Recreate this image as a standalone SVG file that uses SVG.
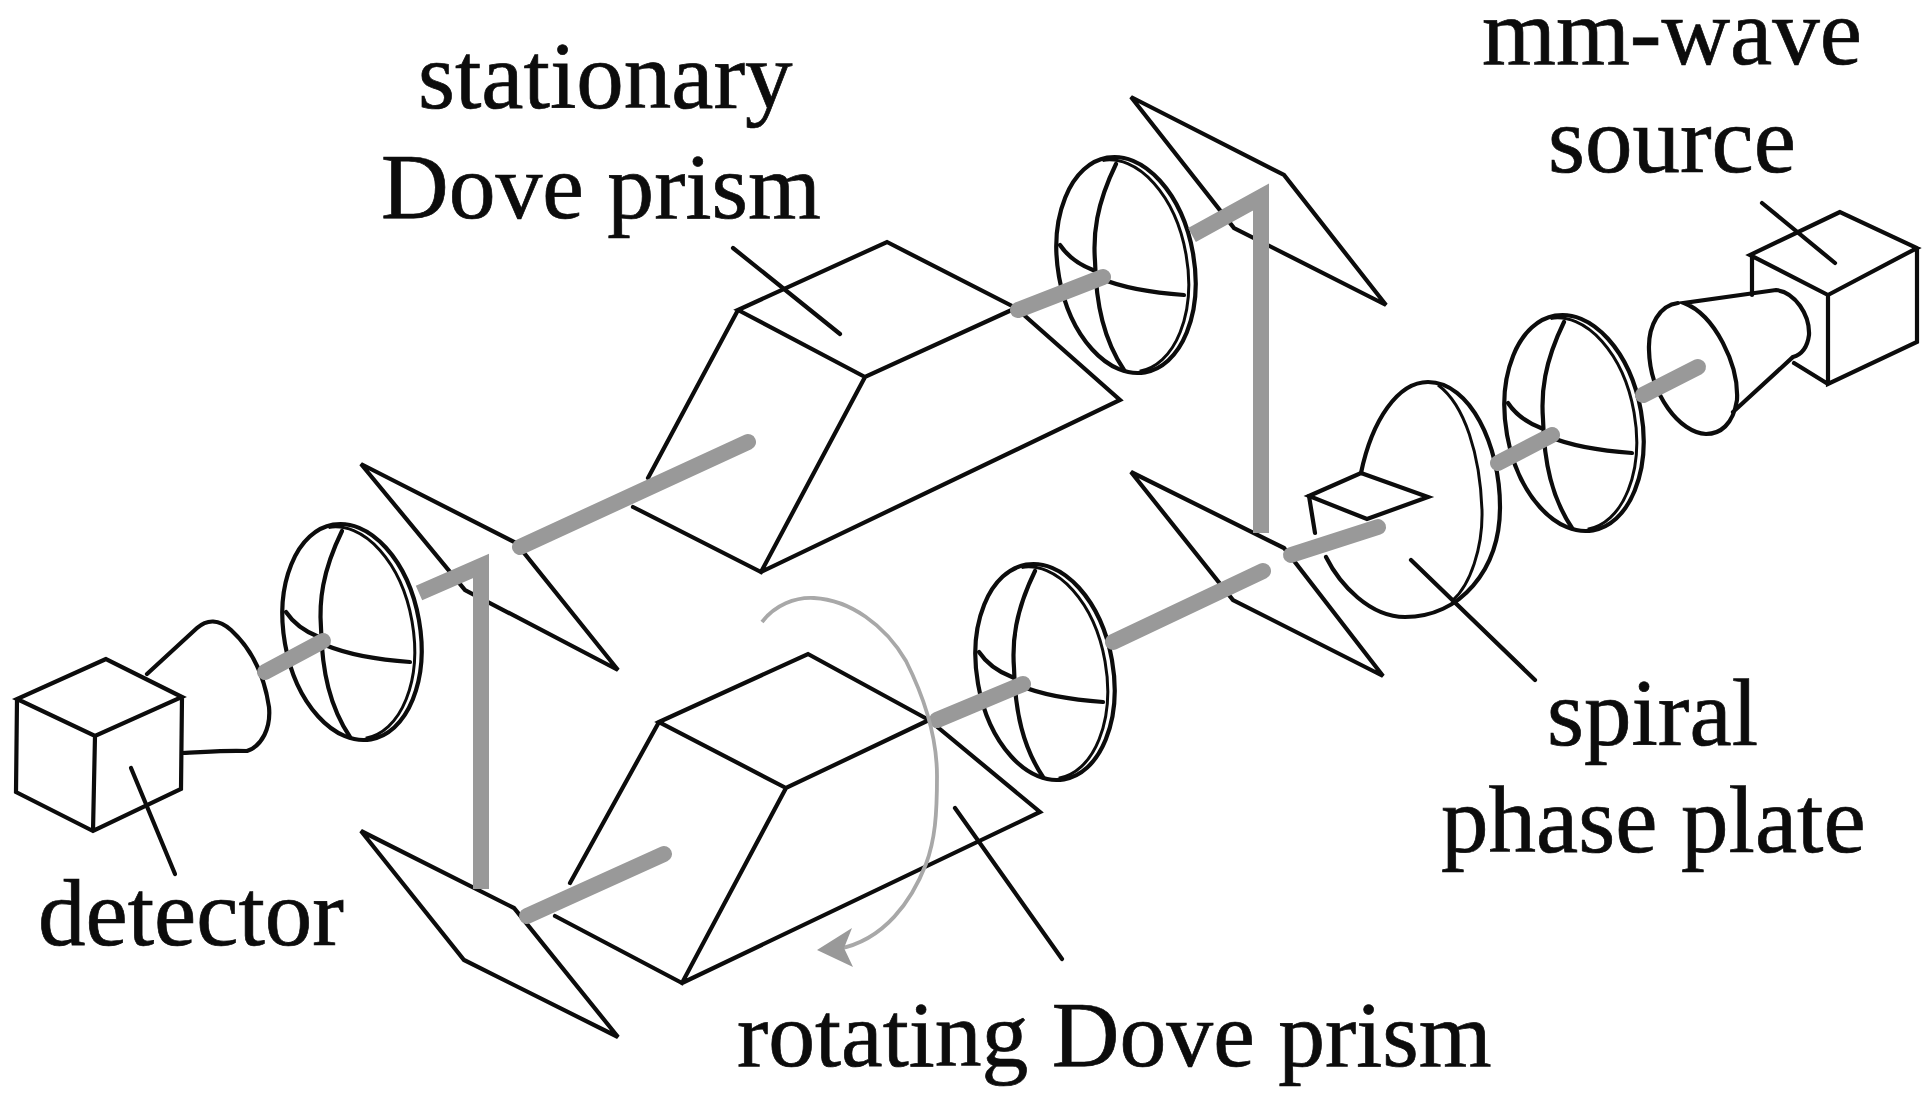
<svg xmlns="http://www.w3.org/2000/svg" xmlns:xlink="http://www.w3.org/1999/xlink" width="1932" height="1101" viewBox="0 0 1932 1101">
<style>
.l{fill:none;stroke:#0c0c0c;stroke-width:4.2;stroke-linejoin:miter;stroke-linecap:round}
.t{fill:none;stroke:#0c0c0c;stroke-width:3}
.b{fill:none;stroke:#999;stroke-width:16;stroke-linecap:round;stroke-linejoin:miter}
.v{fill:none;stroke:#999;stroke-width:16;stroke-linecap:butt;stroke-linejoin:miter;stroke-miterlimit:10}
.a{fill:none;stroke:#a8a8a8;stroke-width:3.8}
text{font-family:"Liberation Serif","Times New Roman",serif;font-size:95px;fill:#0c0c0c;stroke:#0c0c0c;stroke-width:.7}
text.s{font-size:93.7px}
</style>
<defs>
<g id="lens">
<g transform="rotate(-10)">
<ellipse class="l" cx="0" cy="0" rx="68" ry="109"/>
<path class="t" d="M-5,-107A66,107 0 0 1 -5,107"/>
</g>
<path class="l" d="M-10,-101C-30,-60 -33,-30 -31,-4C-30,40 -22,75 -2,105"/>
<path class="l" d="M-66,-20C-58,-8 -46,0 -33,5"/>
<path class="l" d="M-27,13C-5,22 28,28 58,30"/>
</g>
</defs>
<rect width="1932" height="1101" fill="#fff"/>

<g id="detector">
<path class="l" d="M106,659L17,699L95,736L182,697ZM17,699L16,792L93,831L181,789L182,697M95,736L93,831"/>
</g>
<g id="detector-horn">
<path class="l" d="M147,674L197,628C207,619 219,619 231,630C255,652 265,680 269,707C271,728 262,746 247,751C225,750 205,752 182,753"/>
</g>
<g id="lens-1"><use xlink:href="#lens" href="#lens" x="352" y="632"/></g>
<g id="mirror-upper-left"><path class="l" d="M361,464L516,543L618,670L465,590Z"/></g>
<g id="mirror-lower-left"><path class="l" d="M361,831L514,908L618,1037L464,960Z"/></g>
<g id="stationary-dove-prism">
<path class="l" d="M738,310L887,242L1016,308L865,377ZM738,310L648,478M633,507L761,572L865,377M761,572L1120,400L1016,308"/>
</g>
<g id="rotating-dove-prism">
<path class="l" d="M659,722L808,654L929,720L786,788ZM659,722L570,883M555,916L682,983L786,788M682,983L1040,812L929,720"/>
</g>
<g id="lens-2"><use xlink:href="#lens" href="#lens" x="1126" y="265"/></g>
<g id="lens-3"><use xlink:href="#lens" href="#lens" x="1045" y="672"/></g>
<g id="lens-4"><use xlink:href="#lens" href="#lens" x="1574" y="423"/></g>
<g id="mirror-upper-right"><path class="l" d="M1131,97L1284,175L1386,305L1234,228Z"/></g>
<g id="mirror-lower-right"><path class="l" d="M1131,472L1284,548L1383,676L1233,600Z"/></g>
<g id="spiral-phase-plate">
<path class="l" d="M1361,473C1372,420 1398,382 1428,382C1470,382 1500,445 1500,507C1500,570 1460,617 1405,617C1370,617 1340,585 1326,557M1309,496L1315,533"/>
<path class="t" d="M1438,385C1465,405 1480,455 1482,510C1483,548 1470,585 1453,600"/>
<path class="l" d="M1361,473L1428,497L1367,519L1309,496Z"/>
</g>
<g id="source-horn">
<path class="l" d="M1678,303C1660,305 1648,325 1649,350C1650,395 1680,433 1706,434C1720,434 1733,425 1737,400C1739,365 1715,315 1684,303L1776,290C1795,292 1810,315 1809,335C1807,350 1800,355 1793,357L1733,412"/>
</g>
<g id="mm-wave-source">
<path class="l" d="M1840,212L1750,255L1828,295L1917,248ZM1752,255L1752,295M1828,295L1828,384L1917,342L1917,248M1794,363L1828,384"/>
</g>

<g id="connectors">
<path class="b" d="M265,672L323,641"/>
<path class="v" d="M419,593L481,566L481,889"/>
<path class="b" d="M520,547L748,442"/>
<path class="b" d="M527,916L664,854"/>
<path class="b" d="M937,720L1023,684"/>
<path class="b" d="M1113,642L1263,571"/>
<path class="v" d="M1192,235L1261,197L1261,533"/>
<path class="b" d="M1018,310L1103,277"/>
<path class="b" d="M1291,555L1378,527"/>
<path class="b" d="M1498,463L1552,435"/>
<path class="b" d="M1643,395L1698,367"/>
<path class="a" d="M762,622C775,605 795,597 814,598C850,600 885,625 906,661C928,705 937,745 937,776C937,815 935,840 926,864C912,900 885,940 838,949"/>
<path d="M817,950L852,928L844,948L853,967Z" fill="#999"/>
<path class="l" d="M131,768L175,874"/>
<path class="l" d="M733,248L840,334"/>
<path class="l" d="M955,808L1062,959"/>
<path class="l" d="M1411,560L1535,680"/>
<path class="l" d="M1762,203L1835,263"/>
</g>

<g id="labels">
<text x="418" y="108">stationary</text>
<text class="s" x="381" y="218">Dove prism</text>
<text x="38" y="945">detector</text>
<text class="s" x="737" y="1066">rotating Dove prism</text>
<text x="1547" y="745">spiral</text>
<text x="1441" y="852">phase plate</text>
<text x="1482" y="64">mm-wave</text>
<text x="1548" y="172">source</text>
</g>
</svg>
